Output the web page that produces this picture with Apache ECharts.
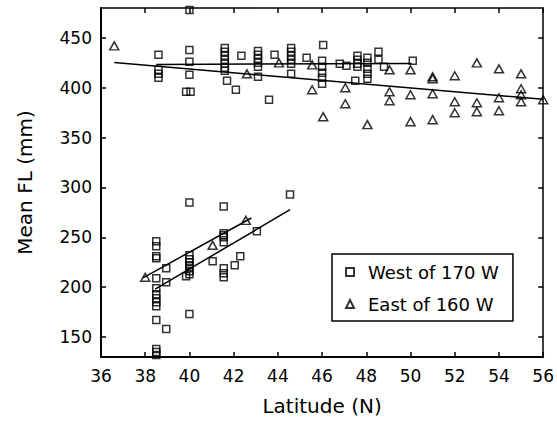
<!DOCTYPE html>
<html>
<head>
<meta charset="utf-8">
<script src="https://cdn.jsdelivr.net/npm/echarts@6/dist/echarts.min.js"></script>
<style>
  html, body { margin: 0; padding: 0; background: #fff; }
  #chart { width: 557px; height: 423px; }
</style>
</head>
<body>
<div id="chart"></div>
<script>
// Mean fork length (mm) against latitude (N), two longitude groups.
const westUpper = [
  [38.6, 433], [38.6, 418], [38.6, 414], [38.6, 410],
  [40.0, 478], [40.0, 438], [40.0, 426], [40.0, 413], [39.85, 396], [40.05, 396],
  [41.6, 440], [41.6, 436], [41.6, 432], [41.6, 428], [41.6, 424], [41.6, 420], [41.6, 417],
  [41.7, 407], [42.1, 398], [42.35, 432],
  [43.1, 437], [43.1, 433], [43.1, 429], [43.1, 425], [43.1, 421], [43.1, 411],
  [43.6, 388], [43.85, 433],
  [44.6, 440], [44.6, 436], [44.6, 432], [44.6, 428], [44.6, 424], [44.6, 414],
  [45.3, 430], [46.05, 443],
  [46.0, 427], [46.0, 421], [46.0, 415], [46.0, 410], [46.0, 404],
  [46.8, 424], [47.1, 422],
  [47.6, 432], [47.6, 428], [47.6, 424], [47.6, 421], [47.5, 407],
  [48.05, 430], [48.05, 425], [48.05, 419], [48.05, 414], [48.05, 409],
  [48.55, 436], [48.55, 428], [48.8, 421], [50.1, 427]
];
const westLower = [
  [38.5, 246], [38.5, 241], [38.5, 231], [38.5, 229], [38.5, 209], [38.5, 199],
  [38.5, 193], [38.5, 189], [38.5, 185], [38.5, 181], [38.5, 167],
  [38.5, 138], [38.5, 135], [38.5, 132],
  [38.95, 219], [38.95, 205], [38.95, 158],
  [39.85, 211],
  [40.0, 285], [40.0, 232], [40.0, 228], [40.0, 225], [40.0, 222], [40.0, 219],
  [40.0, 216], [40.0, 213], [40.0, 173],
  [41.05, 226],
  [41.55, 281], [41.55, 254], [41.55, 252], [41.55, 250], [41.55, 245],
  [41.55, 219], [41.55, 214], [41.55, 210],
  [42.05, 222], [42.3, 231], [43.05, 256], [44.55, 293]
];
const eastUpper = [
  [36.6, 442], [42.6, 414], [44.05, 425],
  [45.55, 423], [45.55, 398], [46.05, 371],
  [47.05, 400], [47.05, 384], [48.05, 363],
  [49.05, 418], [49.05, 396], [49.05, 387],
  [50.0, 418], [50.0, 393], [50.0, 366],
  [51.0, 411], [51.0, 409], [51.0, 394], [51.0, 368],
  [52.0, 412], [52.0, 386], [52.0, 375],
  [53.0, 425], [53.0, 385], [53.0, 376],
  [54.0, 419], [54.0, 390], [54.0, 377],
  [55.0, 414], [55.0, 399], [55.0, 393], [55.0, 386],
  [56.0, 388]
];
const eastLower = [[38.0, 210], [41.05, 242], [42.55, 267]];

// Fitted lines, end points
const westFitUpper = [[38.5, 423.3], [50.05, 424.4]];
const westFitLower = [[38.45, 198], [44.55, 277.7]];
const eastFitUpper = [[36.6, 425.3], [56.0, 388.5]];
const eastFitLower = [[37.9, 209.4], [42.8, 269.4]];

const latTicks = [36, 38, 40, 42, 44, 46, 48, 50, 52, 54, 56];
const flTicks = [150, 200, 250, 300, 350, 400, 450];

const westName = 'West of 170 W';
const eastName = 'East of 160 W';

const FONT = 'DejaVu Sans';
const INK = '#000';

const chart = echarts.init(document.getElementById('chart'), null, { renderer: 'svg' });

function xAxisCfg(pos, labels) {
  return {
    type: 'value', position: pos, min: latTicks[0], max: latTicks[latTicks.length - 1], interval: 2,
    axisLine: { show: true, onZero: false, lineStyle: { color: INK, width: pos === 'bottom' ? 2 : 1.5 } },
    axisTick: { show: true, inside: true, length: 5, lineStyle: { color: INK, width: 1.5 } },
    axisLabel: { show: labels, margin: 10, fontSize: 17, color: INK, fontFamily: FONT },
    splitLine: { show: false }
  };
}
function yAxisCfg(pos, labels) {
  return {
    type: 'value', position: pos, min: 130, max: 480,
    axisLine: { show: true, onZero: false, lineStyle: { color: INK, width: pos === 'left' ? 2 : 1.5 } },
    axisTick: { show: true, inside: true, length: 5, customValues: flTicks, lineStyle: { color: INK, width: 1.5 } },
    axisLabel: { show: labels, margin: 9, fontSize: 17, color: INK, fontFamily: FONT, customValues: flTicks },
    splitLine: { show: false }
  };
}

const xBottom = Object.assign(xAxisCfg('bottom', true), {
  name: 'Latitude (N)', nameLocation: 'middle', nameGap: 39,
  nameTextStyle: { fontSize: 20, color: INK, fontFamily: FONT }
});
const yLeft = Object.assign(yAxisCfg('left', true), {
  name: 'Mean FL (mm)', nameLocation: 'middle', nameGap: 66,
  nameTextStyle: { fontSize: 20, color: INK, fontFamily: FONT }
});

const squareStyle = { color: 'rgba(255,255,255,0)', borderColor: INK, borderWidth: 1.5 };
const triStyle = { color: 'rgba(255,255,255,0)', borderColor: INK, borderWidth: 1.5 };

function fitLine(pts) {
  return {
    type: 'line', data: pts, symbol: 'none', silent: true,
    lineStyle: { color: INK, width: 1.5 }, z: 1
  };
}

chart.setOption({
  animation: false,
  backgroundColor: '#fff',
  grid: { left: 101, right: 12, top: 8, bottom: 66, containLabel: false },
  xAxis: [xBottom, xAxisCfg('top', false)],
  yAxis: [yLeft, yAxisCfg('right', false)],
  legend: {
    orient: 'vertical', left: 332, top: 254,
    padding: [9, 14, 8, 13], itemGap: 14,
    itemWidth: 8, itemHeight: 8,
    borderColor: INK, borderWidth: 1.5, backgroundColor: '#fff',
    textStyle: { fontSize: 18, color: INK, fontFamily: FONT, lineHeight: 18, padding: [0, 0, 0, 9] },
    data: [
      { name: westName, icon: 'rect' },
      { name: eastName, icon: 'triangle' }
    ]
  },
  series: [
    fitLine(westFitUpper), fitLine(westFitLower), fitLine(eastFitUpper), fitLine(eastFitLower),
    {
      name: westName, type: 'scatter', symbol: 'rect', symbolSize: 7,
      data: westUpper.concat(westLower), itemStyle: squareStyle, clip: false, z: 3
    },
    {
      name: eastName, type: 'scatter', symbol: 'triangle', symbolSize: [9, 8],
      data: eastUpper.concat(eastLower), itemStyle: triStyle, clip: false, z: 3
    }
  ]
});
</script>
</body>
</html>
